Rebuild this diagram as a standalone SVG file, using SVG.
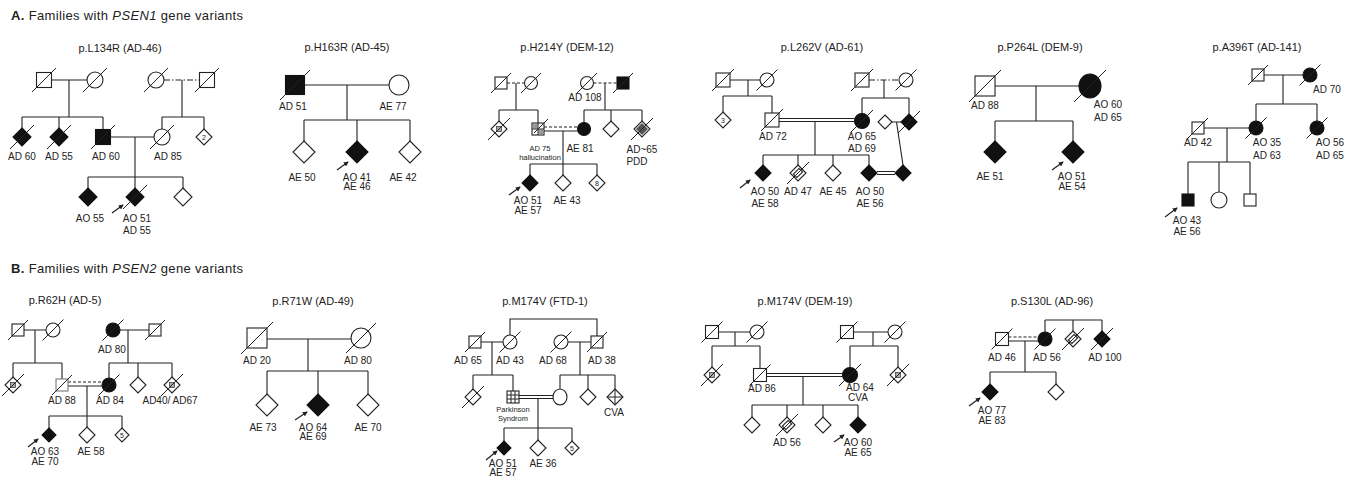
<svg xmlns="http://www.w3.org/2000/svg" width="1358" height="481" viewBox="0 0 1358 481">
<style>
.ln{fill:none;stroke:#222;stroke-width:1.1}
.o{fill:#fff;stroke:#222;stroke-width:1.1}
.f{fill:#111;stroke:#111;stroke-width:1.1}
.g{fill:#fff;stroke:#777;stroke-width:1.1}
.s{stroke:#222;stroke-width:1;fill:none}
.p{fill:#aaa;stroke:#444;stroke-width:0.8}
.d{stroke-dasharray:3 2}
.dd{stroke-dasharray:6 2 1.5 2}
.ar{stroke:#222;stroke-width:1.2}
text{font-family:"Liberation Sans",Arial,Helvetica,sans-serif;fill:#222}
.lb{font-size:10px;text-anchor:middle}
.tt{font-size:11px;text-anchor:middle}
.sm{font-size:7.5px;text-anchor:middle}
.n{font-size:7px;text-anchor:middle}
.hd{font-size:13px}
</style>
<defs>
<marker id="ah" viewBox="0 0 6 6" refX="5" refY="3" markerWidth="5" markerHeight="5" orient="auto" markerUnits="userSpaceOnUse"><path d="M0 0L6 3L0 6z" fill="#222"/></marker>
</defs>
<rect width="1358" height="481" fill="#fff"/>

<text class="hd" x="11" y="19.5" textLength="232"><tspan font-weight="bold">A.</tspan> Families with <tspan font-style="italic">PSEN1</tspan> gene variants</text>
<text class="hd" x="11" y="272.5" textLength="232"><tspan font-weight="bold">B.</tspan> Families with <tspan font-style="italic">PSEN2</tspan> gene variants</text>

<!-- ===== L134R ===== -->
<g id="L134R">
<text class="tt" x="120" y="52">p.L134R (AD-46)</text>
<g id="L134R-connectors" class="ln">
<path d="M51.5 80H87 M69 80V117 M22 117H103 M22 117V128 M59 117V128 M103 117V129.5"/>
<path class="dd" d="M164 80H199.5"/>
<path d="M182 80V117 M162 117H204 M162 117V129 M204 117V129"/>
<path d="M110.5 137H154 M135 137V177 M88 177H183 M88 177V188 M135 177V188 M183 177V188"/>
<line class="ar" x1="112" y1="213" x2="123" y2="205" marker-end="url(#ah)"/>
</g>
<g id="L134R-I1"><rect class="o" x="36.5" y="72.5" width="15" height="15"/><line class="s" x1="32" y1="92" x2="56" y2="68"/></g>
<g id="L134R-I2"><circle class="o" cx="95" cy="80" r="8"/><line class="s" x1="83" y1="92" x2="107" y2="68"/></g>
<g id="L134R-I3"><circle class="o" cx="156" cy="80" r="8"/><line class="s" x1="144" y1="92" x2="168" y2="68"/></g>
<g id="L134R-I4"><rect class="o" x="199.5" y="72.5" width="15" height="15"/><line class="s" x1="195" y1="92" x2="219" y2="68"/></g>
<g id="L134R-II1"><polygon class="f" points="22,128 31,137 22,146 13,137"/><line class="s" x1="10" y1="149" x2="34" y2="125"/><text class="lb" x="22" y="159.5">AD 60</text></g>
<g id="L134R-II2"><polygon class="f" points="59,128 68,137 59,146 50,137"/><line class="s" x1="47" y1="149" x2="71" y2="125"/><text class="lb" x="59" y="159.5">AD 55</text></g>
<g id="L134R-II3"><rect class="f" x="95.5" y="129.5" width="15" height="15"/><line class="s" x1="91" y1="149" x2="115" y2="125"/><text class="lb" x="106" y="159.5">AD 60</text></g>
<g id="L134R-II4"><circle class="o" cx="162" cy="137" r="8"/><line class="s" x1="150" y1="149" x2="174" y2="125"/><text class="lb" x="168" y="159.5">AD 85</text></g>
<g id="L134R-II5"><polygon class="o" points="204,129 212,137 204,145 196,137"/><text class="n" x="204" y="139.5">2</text></g>
<g id="L134R-III1"><polygon class="f" points="88,188 97,197 88,206 79,197"/><text class="lb" x="90" y="222">AO 55</text></g>
<g id="L134R-III2"><polygon class="f" points="135,188 144,197 135,206 126,197"/><line class="s" x1="123" y1="209" x2="147" y2="185"/><text class="lb" x="137" y="222">AO 51</text><text class="lb" x="137" y="234">AD 55</text></g>
<g id="L134R-III3"><polygon class="o" points="183,188 192,197 183,206 174,197"/></g>
</g>

<!-- ===== H163R ===== -->
<g id="H163R">
<text class="tt" x="347" y="51">p.H163R (AD-45)</text>
<g id="H163R-connectors" class="ln">
<path d="M304.5 85H389 M347 85V120 M304 120H410 M304 120V141 M357 120V141 M410 120V141"/>
<line class="ar" x1="337" y1="170" x2="348" y2="162" marker-end="url(#ah)"/>
</g>
<g id="H163R-I1"><rect class="f" x="285.5" y="75.5" width="19" height="19"/><line class="s" x1="280" y1="100" x2="310" y2="70"/><text class="lb" x="293" y="110">AD 51</text></g>
<g id="H163R-I2"><circle class="o" cx="399" cy="85" r="10"/><text class="lb" x="393" y="110">AE 77</text></g>
<g id="H163R-II1"><polygon class="o" points="304,141 315,152 304,163 293,152"/><text class="lb" x="302" y="180.5">AE 50</text></g>
<g id="H163R-II2"><polygon class="f" points="357,141 368,152 357,163 346,152"/><text class="lb" x="357" y="180.5">AO 41</text><text class="lb" x="357" y="190">AE 46</text></g>
<g id="H163R-II3"><polygon class="o" points="410,141 421,152 410,163 399,152"/><text class="lb" x="403" y="180.5">AE 42</text></g>
</g>

<!-- ===== H214Y ===== -->
<g id="H214Y">
<text class="tt" x="567" y="51">p.H214Y (DEM-12)</text>
<g id="H214Y-connectors" class="ln">
<path class="d" d="M507 83H524.5"/>
<path d="M516 83V110 M499 110H538 M499 110V121 M538 110V123"/>
<path class="d" d="M593.5 83H617"/>
<path d="M605 83V110 M584 110H642 M584 110V122.5 M611 110V121 M642 110V121"/>
<path class="d" d="M544 127H577.5"/>
<path d="M544 131H577.5 M563 131V164 M530 164H597 M530 164V175 M563 164V175 M597 164V175"/>
<line class="ar" x1="509" y1="195" x2="520" y2="187" marker-end="url(#ah)"/>
</g>
<g id="H214Y-I1"><rect class="o" x="495" y="77" width="12" height="12"/><line class="s" x1="491" y1="93" x2="511" y2="73"/></g>
<g id="H214Y-I2"><circle class="o" cx="531" cy="83" r="6.5"/><line class="s" x1="521" y1="93" x2="541" y2="73"/></g>
<g id="H214Y-I3"><circle class="o" cx="587" cy="83" r="6.5"/><line class="s" x1="577" y1="93" x2="597" y2="73"/><text class="lb" x="585" y="100.5">AD 108</text></g>
<g id="H214Y-I4"><rect class="f" x="617" y="77" width="12" height="12"/><line class="s" x1="613" y1="93" x2="633" y2="73"/></g>
<g id="H214Y-II1"><polygon class="o" points="499,121 507,129 499,137 491,129"/><rect class="p" x="496.5" y="126.5" width="5" height="5"/><line class="s" x1="488" y1="140" x2="510" y2="118"/></g>
<g id="H214Y-II2"><rect class="o" x="532" y="123" width="12" height="12"/><rect x="533" y="124" width="4.5" height="4.5" fill="#999"/><rect x="538.5" y="129.5" width="4.5" height="4.5" fill="#999"/><path class="s" d="M538 123V135 M532 129H544"/><line class="s" x1="534" y1="133" x2="548" y2="119"/><text class="sm" x="540" y="151">AD 75</text><text class="sm" x="540" y="160">hallucination</text></g>
<g id="H214Y-II3"><circle class="f" cx="584" cy="129" r="6.5"/><text class="lb" x="580" y="151.5">AE 81</text></g>
<g id="H214Y-II4"><polygon class="o" points="611,121 619,129 611,137 603,129"/></g>
<g id="H214Y-II5"><polygon class="o" points="642,121 650,129 642,137 634,129"/><polygon points="642,123 648,129 642,135 636,129" fill="#555"/><line class="s" x1="631" y1="140" x2="653" y2="118"/><text class="lb" x="642" y="153">AD~65</text><text class="lb" x="637" y="164.5">PDD</text></g>
<g id="H214Y-III1"><polygon class="f" points="530,175 538,183 530,191 522,183"/><text class="lb" x="528" y="203.5">AO 51</text><text class="lb" x="528" y="213.5">AE 57</text></g>
<g id="H214Y-III2"><polygon class="o" points="563,175 571,183 563,191 555,183"/><text class="lb" x="567" y="203.5">AE 43</text></g>
<g id="H214Y-III3"><polygon class="o" points="597,175 605,183 597,191 589,183"/><text class="n" x="597" y="185.5">8</text></g>
</g>

<!-- ===== L262V ===== -->
<g id="L262V">
<text class="tt" x="822" y="51">p.L262V (AD-61)</text>
<g id="L262V-connectors" class="ln">
<path d="M730 80H760 M748 80V96 M723 96H772 M723 96V112 M772 96V113"/>
<path class="dd" d="M869 80H899"/>
<path d="M884 80V98 M862 98H909 M862 98V113.5 M909 98V114"/>
<path d="M779 118.5H854.5 M779 121.5H854.5 M815 121.5V155 M763 155H869 M763 155V165 M798 155V165 M833 155V165 M869 155V165"/>
<path d="M892 122H901 M896.5 122L903 165"/>
<path d="M877 171.5H895 M877 174.5H895"/>
<line class="ar" x1="740" y1="188" x2="750" y2="180" marker-end="url(#ah)"/>
</g>
<g id="L262V-I1"><rect class="o" x="716" y="73" width="14" height="14"/><line class="s" x1="712" y1="91" x2="734" y2="69"/></g>
<g id="L262V-I2"><circle class="o" cx="767" cy="80" r="7"/><line class="s" x1="756.5" y1="90.5" x2="777.5" y2="69.5"/></g>
<g id="L262V-I3"><rect class="o" x="855" y="73" width="14" height="14"/><line class="s" x1="851" y1="91" x2="873" y2="69"/></g>
<g id="L262V-I4"><circle class="o" cx="906" cy="80" r="7"/><line class="s" x1="895.5" y1="90.5" x2="916.5" y2="69.5"/></g>
<g id="L262V-II1"><polygon class="o" points="723,112 731,120 723,128 715,120"/><text class="n" x="723" y="122.5">3</text></g>
<g id="L262V-II2"><rect class="o" x="765" y="113" width="14" height="14"/><line class="s" x1="761" y1="131" x2="783" y2="109"/><text class="lb" x="773" y="140">AD 72</text></g>
<g id="L262V-II3"><circle class="f" cx="862" cy="121" r="7.5"/><line class="s" x1="851" y1="132" x2="873" y2="110"/><text class="lb" x="862" y="139.5">AO 65</text><text class="lb" x="862" y="152">AD 69</text></g>
<g id="L262V-II4"><polygon class="o" points="885,115 892,122 885,129 878,122"/></g>
<g id="L262V-II5"><polygon class="f" points="909,114 917,122 909,130 901,122"/><line class="s" x1="898" y1="133" x2="920" y2="111"/></g>
<g id="L262V-III1"><polygon class="f" points="763,165 771,173 763,181 755,173"/><text class="lb" x="765" y="194.5">AO 50</text><text class="lb" x="765" y="207">AE 58</text></g>
<g id="L262V-III2"><polygon class="o" points="798,165 806,173 798,181 790,173"/><rect class="o" x="795.5" y="169" width="5" height="8" transform="rotate(45 798 173)"/><line class="s" x1="787" y1="184" x2="809" y2="162"/><text class="lb" x="798" y="194.5">AD 47</text></g>
<g id="L262V-III3"><polygon class="o" points="833,165 841,173 833,181 825,173"/><text class="lb" x="833" y="194.5">AE 45</text></g>
<g id="L262V-III4"><polygon class="f" points="869,165 877,173 869,181 861,173"/><text class="lb" x="870" y="194.5">AO 50</text><text class="lb" x="870" y="207">AE 56</text></g>
<g id="L262V-III5"><polygon class="f" points="903,165 911,173 903,181 895,173"/></g>
</g>

<!-- ===== P264L ===== -->
<g id="P264L">
<text class="tt" x="1040" y="51">p.P264L (DEM-9)</text>
<g id="P264L-connectors" class="ln">
<path d="M995 86H1079 M1036 86V121 M995 121H1073 M995 121V141 M1073 121V141"/>
<line class="ar" x1="1052" y1="170" x2="1063" y2="162" marker-end="url(#ah)"/>
</g>
<g id="P264L-I1"><rect class="o" x="975" y="76" width="20" height="20"/><line class="s" x1="969" y1="102" x2="1001" y2="70"/><text class="lb" x="985" y="108.5">AD 88</text></g>
<g id="P264L-I2"><ellipse class="f" cx="1090" cy="86" rx="11" ry="12"/><line class="s" x1="1074" y1="102" x2="1106" y2="70"/><text class="lb" x="1108" y="108">AO 60</text><text class="lb" x="1108" y="121">AD 65</text></g>
<g id="P264L-II1"><polygon class="f" points="995,141 1006,152 995,163 984,152"/><text class="lb" x="990" y="180">AE 51</text></g>
<g id="P264L-II2"><polygon class="f" points="1073,141 1084,152 1073,163 1062,152"/><text class="lb" x="1072" y="180">AO 51</text><text class="lb" x="1072" y="189.5">AE 54</text></g>
</g>

<!-- ===== A396T ===== -->
<g id="A396T">
<text class="tt" x="1257" y="51">p.A396T (AD-141)</text>
<g id="A396T-connectors" class="ln">
<path d="M1264 75H1303 M1283 75V104 M1256 104H1317 M1256 104V121 M1317 104V121"/>
<path d="M1204 128H1249 M1227 128V162 M1188 162H1250 M1188 162V194 M1219 162V192 M1250 162V194"/>
<line class="ar" x1="1165" y1="217" x2="1177" y2="208" marker-end="url(#ah)"/>
</g>
<g id="A396T-I1"><rect class="o" x="1252" y="69" width="12" height="12"/><line class="s" x1="1248" y1="85" x2="1268" y2="65"/></g>
<g id="A396T-I2"><circle class="f" cx="1310" cy="75" r="7"/><line class="s" x1="1299.5" y1="85.5" x2="1320.5" y2="64.5"/><text class="lb" x="1327" y="92.5">AD 70</text></g>
<g id="A396T-II1"><rect class="o" x="1192" y="122" width="12" height="12"/><line class="s" x1="1188" y1="138" x2="1208" y2="118"/><text class="lb" x="1198" y="146">AD 42</text></g>
<g id="A396T-II2"><circle class="f" cx="1256" cy="128" r="7"/><line class="s" x1="1245.5" y1="138.5" x2="1266.5" y2="117.5"/><text class="lb" x="1267" y="145.5">AO 35</text><text class="lb" x="1267" y="158.5">AD 63</text></g>
<g id="A396T-II3"><circle class="f" cx="1317" cy="128" r="7"/><line class="s" x1="1306.5" y1="138.5" x2="1327.5" y2="117.5"/><text class="lb" x="1330" y="145.5">AO 56</text><text class="lb" x="1330" y="158.5">AD 65</text></g>
<g id="A396T-III1"><rect class="f" x="1182" y="194" width="12" height="12"/><text class="lb" x="1187" y="223.5">AO 43</text><text class="lb" x="1187" y="234.5">AE 56</text></g>
<g id="A396T-III2"><circle class="o" cx="1219" cy="200" r="8"/></g>
<g id="A396T-III3"><rect class="o" x="1244" y="194" width="12" height="12"/></g>
</g>

<!-- ===== R62H ===== -->
<g id="R62H">
<text class="tt" x="65" y="304">p.R62H (AD-5)</text>
<g id="R62H-connectors" class="ln">
<path d="M24 330H46 M35 330V363 M13 363H62 M13 363V377 M62 363V379"/>
<path d="M120 330H149 M128 330V363 M109 363H172 M109 363V378 M138 363V377 M172 363V377"/>
<path class="d" d="M68 382H102"/>
<path d="M68 386H102 M87 386V416 M49 416H122 M49 416V428 M87 416V427 M122 416V428"/>
<line class="ar" x1="28" y1="447" x2="38" y2="439" marker-end="url(#ah)"/>
</g>
<g id="R62H-I1"><rect class="o" x="12" y="324" width="12" height="12"/><line class="s" x1="8" y1="340" x2="28" y2="320"/></g>
<g id="R62H-I2"><circle class="o" cx="53" cy="330" r="7"/><line class="s" x1="42.5" y1="340.5" x2="63.5" y2="319.5"/></g>
<g id="R62H-I3"><circle class="f" cx="113" cy="330" r="7"/><line class="s" x1="102.5" y1="340.5" x2="123.5" y2="319.5"/><text class="lb" x="112" y="352.5">AD 80</text></g>
<g id="R62H-I4"><rect class="o" x="149" y="324" width="12" height="12"/><line class="s" x1="145" y1="340" x2="165" y2="320"/></g>
<g id="R62H-II1"><polygon class="o" points="13,377 21,385 13,393 5,385"/><rect class="p" x="10.5" y="382.5" width="5" height="5"/><line class="s" x1="2" y1="396" x2="24" y2="374"/></g>
<g id="R62H-II2"><rect class="g" x="56" y="379" width="12" height="12"/><line class="s" x1="52" y1="395" x2="72" y2="375"/><text class="lb" x="62" y="403.5">AD 88</text></g>
<g id="R62H-II3"><circle class="f" cx="109" cy="385" r="7"/><line class="s" x1="98.5" y1="395.5" x2="119.5" y2="374.5"/><text class="lb" x="110" y="403.5">AD 84</text></g>
<g id="R62H-II4"><polygon class="o" points="138,377 146,385 138,393 130,385"/></g>
<g id="R62H-II5"><polygon class="o" points="172,377 180,385 172,393 164,385"/><rect class="p" x="169.5" y="382.5" width="5" height="5"/><line class="s" x1="161" y1="396" x2="183" y2="374"/><text class="lb" x="170" y="403.5">AD40/ AD67</text></g>
<g id="R62H-III1"><polygon class="f" points="49,428 56,435 49,442 42,435"/><text class="lb" x="45" y="455">AO 63</text><text class="lb" x="45" y="465">AE 70</text></g>
<g id="R62H-III2"><polygon class="o" points="87,427 95,435 87,443 79,435"/><text class="lb" x="91" y="455">AE 58</text></g>
<g id="R62H-III3"><polygon class="o" points="122,428 129,435 122,442 115,435"/><text class="n" x="122" y="437.5">5</text></g>
</g>

<!-- ===== R71W ===== -->
<g id="R71W">
<text class="tt" x="313" y="304.5">p.R71W (AD-49)</text>
<g id="R71W-connectors" class="ln">
<path d="M267 339H351 M308 339V371 M267 371H368 M267 371V394 M318 371V394 M368 371V394"/>
<line class="ar" x1="295" y1="420" x2="307" y2="412" marker-end="url(#ah)"/>
</g>
<g id="R71W-I1"><rect class="o" x="247" y="328" width="20" height="20"/><line class="s" x1="241" y1="354" x2="273" y2="322"/><text class="lb" x="257" y="363.5">AD 20</text></g>
<g id="R71W-I2"><circle class="o" cx="361" cy="338" r="10"/><line class="s" x1="346" y1="353" x2="376" y2="323"/><text class="lb" x="358" y="363.5">AD 80</text></g>
<g id="R71W-II1"><polygon class="o" points="267,394 278,405 267,416 256,405"/><text class="lb" x="263" y="430.5">AE 73</text></g>
<g id="R71W-II2"><polygon class="f" points="318,394 329,405 318,416 307,405"/><text class="lb" x="313" y="430.5">AO 64</text><text class="lb" x="313" y="440">AE 69</text></g>
<g id="R71W-II3"><polygon class="o" points="368,394 379,405 368,416 357,405"/><text class="lb" x="368" y="430.5">AE 70</text></g>
</g>

<!-- ===== M174V FTD-1 ===== -->
<g id="FTD1">
<text class="tt" x="545" y="304.5">p.M174V (FTD-1)</text>
<g id="FTD1-connectors" class="ln">
<path d="M510 335V319H597V336"/>
<path d="M481 342H503 M492 342V375 M473 375H513 M473 375V389 M513 375V391"/>
<path d="M568 342H591 M580 342V375 M560 375H615 M560 375V389 M588 375V389 M615 375V389"/>
<path d="M519 395.5H553 M519 398.5H553 M538 398.5V428 M504 428H572 M504 428V441 M538 428V440 M572 428V441"/>
<line class="ar" x1="486" y1="460" x2="497" y2="451" marker-end="url(#ah)"/>
</g>
<g id="FTD1-I1"><rect class="o" x="469" y="336" width="12" height="12"/><line class="s" x1="465" y1="352" x2="485" y2="332"/><text class="lb" x="468" y="363.5">AD 65</text></g>
<g id="FTD1-I2"><circle class="o" cx="510" cy="342" r="7"/><line class="s" x1="499.5" y1="352.5" x2="520.5" y2="331.5"/><text class="lb" x="510" y="363.5">AD 43</text></g>
<g id="FTD1-I3"><circle class="o" cx="561" cy="342" r="7"/><line class="s" x1="550.5" y1="352.5" x2="571.5" y2="331.5"/><text class="lb" x="553" y="363.5">AD 68</text></g>
<g id="FTD1-I4"><rect class="o" x="591" y="336" width="12" height="12"/><line class="s" x1="587" y1="352" x2="607" y2="332"/><text class="lb" x="602" y="363.5">AD 38</text></g>
<g id="FTD1-II1"><polygon class="o" points="473,389 481,397 473,405 465,397"/><line class="s" x1="462" y1="408" x2="484" y2="386"/></g>
<g id="FTD1-II2"><rect class="o" x="507" y="391" width="12" height="12"/><path class="s" d="M511 391V403 M515 391V403 M507 395H519 M507 399H519"/><text class="sm" x="513" y="412">Parkinson</text><text class="sm" x="513" y="421">Syndrom</text></g>
<g id="FTD1-II3"><ellipse class="o" cx="560" cy="397" rx="7" ry="8"/></g>
<g id="FTD1-II4"><polygon class="o" points="588,389 596,397 588,405 580,397"/></g>
<g id="FTD1-II5"><polygon class="o" points="615,389 623,397 615,405 607,397"/><path class="s" d="M615 389V405 M607 397H623" stroke-width="1.6"/><text class="lb" x="614" y="416">CVA</text></g>
<g id="FTD1-III1"><polygon class="f" points="504,441 511,448 504,455 497,448"/><text class="lb" x="503" y="467">AO 51</text><text class="lb" x="503" y="476">AE 57</text></g>
<g id="FTD1-III2"><polygon class="o" points="538,440 546,448 538,456 530,448"/><text class="lb" x="543" y="467">AE 36</text></g>
<g id="FTD1-III3"><polygon class="o" points="572,441 579,448 572,455 565,448"/><text class="n" x="572" y="450.5">5</text></g>
</g>

<!-- ===== M174V DEM-19 ===== -->
<g id="DEM19">
<text class="tt" x="805" y="304.5">p.M174V (DEM-19)</text>
<g id="DEM19-connectors" class="ln">
<path d="M718.5 332H750 M735 332V346 M712 346H760 M712 346V367 M760 346V368.5"/>
<path d="M853.5 332H888 M873 332V346 M850 346H898 M850 346V367.5 M898 346V367"/>
<path d="M766.5 373.5H842.5 M766.5 376.5H842.5 M803 376.5V405 M752 405H858 M752 405V417 M787 405V417 M823 405V417 M858 405V417"/>
<line class="ar" x1="834" y1="442" x2="844" y2="435" marker-end="url(#ah)"/>
</g>
<g id="DEM19-I1"><rect class="o" x="705.5" y="325.5" width="13" height="13"/><line class="s" x1="701.5" y1="342.5" x2="722.5" y2="321.5"/></g>
<g id="DEM19-I2"><circle class="o" cx="757" cy="332" r="7"/><line class="s" x1="746.5" y1="342.5" x2="767.5" y2="321.5"/></g>
<g id="DEM19-I3"><rect class="o" x="840.5" y="325.5" width="13" height="13"/><line class="s" x1="836.5" y1="342.5" x2="857.5" y2="321.5"/></g>
<g id="DEM19-I4"><circle class="o" cx="895" cy="332" r="7"/><line class="s" x1="884.5" y1="342.5" x2="905.5" y2="321.5"/></g>
<g id="DEM19-II1"><polygon class="o" points="712,367 720,375 712,383 704,375"/><rect class="p" x="709.5" y="372.5" width="5" height="5"/><line class="s" x1="701" y1="386" x2="723" y2="364"/></g>
<g id="DEM19-II2"><rect class="o" x="753.5" y="368.5" width="13" height="13"/><line class="s" x1="749.5" y1="385.5" x2="770.5" y2="364.5"/><text class="lb" x="762" y="392">AD 86</text></g>
<g id="DEM19-II3"><circle class="f" cx="850" cy="375" r="7.5"/><line class="s" x1="839" y1="386" x2="861" y2="364"/><text class="lb" x="860" y="391">AD 64</text><text class="lb" x="858" y="401">CVA</text></g>
<g id="DEM19-II4"><polygon class="o" points="898,367 906,375 898,383 890,375"/><rect class="p" x="895.5" y="372.5" width="5" height="5"/><line class="s" x1="887" y1="386" x2="909" y2="364"/></g>
<g id="DEM19-III1"><polygon class="o" points="752,417 760,425 752,433 744,425"/></g>
<g id="DEM19-III2"><polygon class="o" points="787,417 795,425 787,433 779,425"/><rect class="o" x="784.5" y="421" width="5" height="8" transform="rotate(45 787 425)"/><line class="s" x1="776" y1="436" x2="798" y2="414"/><text class="lb" x="787" y="446">AD 56</text></g>
<g id="DEM19-III3"><polygon class="o" points="823,417 831,425 823,433 815,425"/></g>
<g id="DEM19-III4"><polygon class="f" points="858,417 866,425 858,433 850,425"/><text class="lb" x="858" y="446">AO 60</text><text class="lb" x="858" y="456">AE 65</text></g>
</g>

<!-- ===== S130L ===== -->
<g id="S130L">
<text class="tt" x="1052" y="304.5">p.S130L (AD-96)</text>
<g id="S130L-connectors" class="ln">
<path d="M1045 320H1102 M1045 320V332 M1073 320V331 M1102 320V331"/>
<path class="d" d="M1008.5 337H1038"/>
<path d="M1008.5 341H1038 M1025 341V372 M990 372H1056 M990 372V384 M1056 372V384"/>
<line class="ar" x1="969" y1="406" x2="980" y2="398" marker-end="url(#ah)"/>
</g>
<g id="S130L-I1"><rect class="o" x="995.5" y="332.5" width="13" height="13"/><line class="s" x1="991.5" y1="349.5" x2="1012.5" y2="328.5"/><text class="lb" x="1002" y="360.5">AD 46</text></g>
<g id="S130L-I2"><circle class="f" cx="1045" cy="339" r="7"/><line class="s" x1="1034.5" y1="349.5" x2="1055.5" y2="328.5"/><text class="lb" x="1047" y="360.5">AD 56</text></g>
<g id="S130L-I3"><polygon class="o" points="1073,331 1081,339 1073,347 1065,339"/><rect class="o" x="1070.5" y="335" width="5" height="8" transform="rotate(45 1073 339)"/><line class="s" x1="1062" y1="350" x2="1084" y2="328"/></g>
<g id="S130L-I4"><polygon class="f" points="1102,331 1110,339 1102,347 1094,339"/><line class="s" x1="1091" y1="350" x2="1113" y2="328"/><text class="lb" x="1105" y="360.5">AD 100</text></g>
<g id="S130L-II1"><polygon class="f" points="990,384 998,392 990,400 982,392"/><text class="lb" x="992" y="413.5">AO 77</text><text class="lb" x="992" y="423.5">AE 83</text></g>
<g id="S130L-II2"><polygon class="o" points="1056,384 1064,392 1056,400 1048,392"/></g>
</g>
</svg>
